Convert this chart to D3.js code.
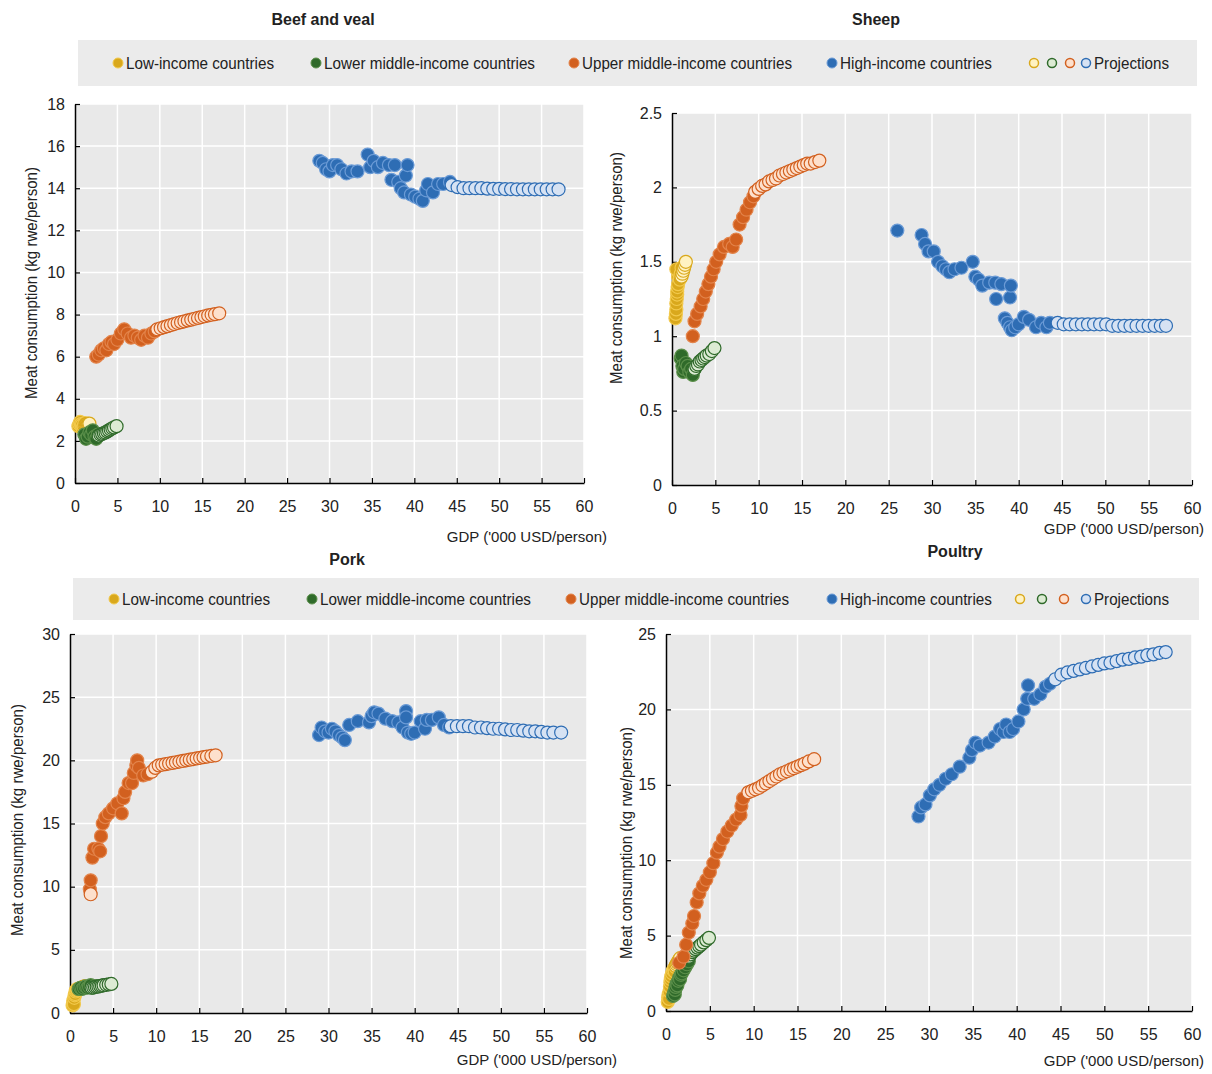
<!DOCTYPE html>
<html><head><meta charset="utf-8">
<script src="https://cdn.jsdelivr.net/npm/d3@7"></script>
<style>
body{margin:0;background:#fff}
text{font-family:"Liberation Sans Narrow","Arial Narrow","Liberation Sans",sans-serif;fill:#222}
</style></head><body>
<svg id="c" width="1212" height="1074"></svg>
<script>
// income groups
var groups = ["Low-income countries", "Lower middle-income countries", "Upper middle-income countries", "High-income countries"];
var histFill = ["#d9a81c", "#2f6a2a", "#d2601f", "#2e6db4"];
var histRing = ["#f2c94c", "#5b8f4a", "#e3844b", "#6b9bd6"];
var projFill = ["#fff2c2", "#dcebd3", "#fde0cc", "#d6e2f3"];

// Beef and veal: [gdp, kg]
var beefHist = [
  [[0.4,2.7],[0.5,2.8],[0.6,2.9],[0.7,2.8],[0.8,2.75],[0.9,2.6],[1.0,2.7],[1.1,2.8],[1.2,2.85]],
  [[1.1,2.3],[1.3,2.1],[1.5,2.2],[1.7,2.4],[1.9,2.3],[2.1,2.5],[2.3,2.2],[2.5,2.1],[2.7,2.3]],
  [[2.5,6.0],[2.8,6.1],[3.1,6.3],[3.4,6.4],[3.7,6.3],[4.0,6.6],[4.3,6.7],[4.6,6.6],[5.0,6.8],[5.4,7.1],[5.8,7.3],[6.2,7.1],[6.6,6.9],[7.0,7.0],[7.4,6.9],[7.8,6.8],[8.2,7.0],[8.6,6.9],[9.0,7.1],[9.4,7.2]],
  [[28.8,15.3],[29.2,15.2],[29.6,14.9],[30,14.8],[30.4,15.1],[30.9,15.1],[31.4,14.9],[32,14.7],[32.6,14.8],[33.3,14.8],[34.5,15.6],[34.8,15.0],[35.2,15.3],[35.7,15.0],[36.3,15.2],[37,15.1],[37.3,14.4],[37.7,15.1],[38.1,14.3],[38.4,14.0],[38.8,13.8],[39,14.6],[39.2,15.1],[39.6,13.7],[40.1,13.6],[40.6,13.5],[41,13.4],[41.4,13.9],[41.6,14.2],[42.2,13.8],[42.8,14.2],[43.4,14.2],[44.2,14.3]]
];
var beefProj = [
  [[1.2,2.75],[1.3,2.76],[1.4,2.78],[1.5,2.8],[1.6,2.81],[1.7,2.82]],
  [[2.8,2.25],[3.0,2.3],[3.2,2.33],[3.4,2.37],[3.6,2.4],[3.8,2.45],[4.0,2.5],[4.2,2.55],[4.4,2.6],[4.6,2.64],[4.9,2.7]],
  [[9.7,7.3],[10.1,7.35],[10.5,7.4],[10.9,7.45],[11.3,7.5],[11.7,7.55],[12.1,7.6],[12.5,7.64],[12.9,7.68],[13.3,7.72],[13.7,7.76],[14.1,7.8],[14.5,7.84],[14.9,7.88],[15.3,7.92],[15.7,7.96],[16.1,7.99],[16.5,8.02],[17.0,8.06]],
  [[44.4,14.15],[45.1,14.05],[45.8,14.0],[46.5,14.0],[47.2,14.0],[47.9,14.0],[48.6,13.98],[49.3,13.97],[50,13.97],[50.7,13.96],[51.4,13.96],[52.1,13.95],[52.8,13.95],[53.5,13.95],[54.2,13.95],[54.9,13.95],[55.6,13.95],[56.3,13.95],[57,13.95]]
];

// Sheep
var sheepHist = [
  [[0.4,1.12],[0.45,1.15],[0.5,1.18],[0.5,1.22],[0.55,1.25],[0.6,1.28],[0.6,1.3],[0.65,1.33],[0.7,1.35],[0.7,1.4],[0.75,1.43],[0.8,1.45],[0.5,1.45],[0.9,1.38],[1.0,1.42],[1.1,1.46]],
  [[1.0,0.85],[1.1,0.87],[1.2,0.8],[1.3,0.76],[1.4,0.78],[1.6,0.82],[1.8,0.8],[2.0,0.76],[2.2,0.78],[2.4,0.74],[2.6,0.78]],
  [[2.4,1.0],[2.6,1.1],[2.9,1.15],[3.3,1.2],[3.6,1.25],[3.9,1.3],[4.2,1.35],[4.5,1.4],[4.8,1.45],[5.1,1.5],[5.5,1.55],[6,1.6],[6.6,1.62],[7.0,1.6],[7.4,1.65],[7.8,1.75],[8.2,1.8],[8.6,1.85],[9,1.9],[9.4,1.94]],
  [[26,1.71],[28.8,1.68],[29.2,1.62],[29.6,1.57],[30.2,1.57],[30.7,1.5],[31.2,1.47],[31.6,1.45],[32,1.43],[32.6,1.45],[33.4,1.46],[34.7,1.5],[35,1.4],[35.4,1.38],[35.8,1.34],[36.6,1.36],[37.3,1.36],[37.4,1.25],[38,1.35],[38.4,1.12],[38.7,1.09],[39,1.06],[39,1.26],[39.1,1.34],[39.2,1.04],[39.6,1.06],[40,1.08],[40.6,1.13],[41.2,1.11],[42,1.06],[42.6,1.09],[43.2,1.06],[43.6,1.09]]
];
var sheepProj = [
  [[1.1,1.4],[1.2,1.42],[1.3,1.44],[1.4,1.46],[1.5,1.48],[1.6,1.5]],
  [[2.6,0.78],[2.8,0.8],[3.0,0.81],[3.2,0.83],[3.4,0.84],[3.6,0.85],[3.8,0.86],[4.0,0.87],[4.3,0.88],[4.6,0.9],[4.9,0.92]],
  [[9.6,1.97],[10.0,1.99],[10.4,2.01],[10.8,2.02],[11.2,2.04],[11.6,2.05],[12.0,2.06],[12.4,2.08],[12.8,2.09],[13.2,2.1],[13.6,2.11],[14.0,2.12],[14.4,2.13],[14.8,2.14],[15.2,2.15],[15.6,2.16],[16.0,2.16],[16.5,2.17],[17.0,2.18]],
  [[44.5,1.09],[45.2,1.08],[45.9,1.08],[46.6,1.08],[47.3,1.08],[48,1.08],[48.7,1.08],[49.4,1.08],[50.1,1.08],[50.8,1.07],[51.5,1.07],[52.2,1.07],[52.9,1.07],[53.6,1.07],[54.3,1.07],[55,1.07],[55.7,1.07],[56.4,1.07],[57,1.07]]
];

// Pork
var porkHist = [
  [[0.3,0.6],[0.35,0.8],[0.4,1.0],[0.45,0.7],[0.5,1.2],[0.55,1.4],[0.6,1.5],[0.65,1.7],[0.7,1.8],[0.8,1.9],[0.9,1.8],[1.0,1.9]],
  [[1.0,1.9],[1.2,2.0],[1.4,1.9],[1.6,2.0],[1.8,2.1],[2.0,2.0],[2.2,2.1],[2.4,2.2],[2.6,2.0],[2.8,2.1],[3.0,2.1]],
  [[2.3,9.8],[2.4,10.5],[2.6,12.3],[2.8,13.0],[3.3,13.0],[3.5,12.8],[3.6,14.0],[3.8,15.0],[4.1,15.5],[4.5,15.8],[5,16.2],[5.5,16.6],[6,15.8],[6.2,17.0],[6.4,17.5],[6.8,18.2],[7.2,18.2],[7.4,19.0],[7.7,19.6],[7.8,20.0],[8,19.4],[8.5,18.8],[9.0,18.9]],
  [[28.9,22.0],[29.2,22.6],[29.6,22.3],[30,22.2],[30.4,22.5],[30.8,22.3],[31.2,22.0],[31.6,21.8],[31.9,21.6],[32.4,22.8],[33.4,23.1],[34.7,23.0],[35.0,23.5],[35.3,23.8],[35.8,23.7],[36.6,23.3],[37.4,23.1],[38.1,23.0],[38.6,22.6],[39.0,23.9],[39.0,23.4],[39.2,22.2],[39.6,22.1],[40.0,22.2],[40.7,23.1],[41.2,22.5],[41.4,23.2],[42,23.2],[42.8,23.4],[43.4,22.8],[44,22.6]]
];
var porkProj = [
  [[1.0,1.9],[1.15,1.95],[1.3,2.0],[1.45,2.05],[1.6,2.08],[1.7,2.1]],
  [[2.5,2.0],[2.7,2.02],[2.9,2.05],[3.1,2.08],[3.3,2.1],[3.5,2.13],[3.7,2.16],[3.9,2.2],[4.2,2.23],[4.5,2.26],[4.8,2.3]],
  [[2.4,9.4],[9.5,19.1],[9.9,19.4],[10.3,19.6],[10.7,19.65],[11.1,19.7],[11.5,19.75],[11.9,19.8],[12.3,19.85],[12.7,19.9],[13.1,19.95],[13.5,20.0],[13.9,20.05],[14.3,20.1],[14.7,20.15],[15.1,20.2],[15.5,20.25],[15.9,20.3],[16.4,20.35],[16.9,20.4]],
  [[44.2,22.7],[44.9,22.7],[45.6,22.7],[46.3,22.7],[47,22.6],[47.7,22.6],[48.4,22.55],[49.1,22.5],[49.8,22.5],[50.5,22.45],[51.2,22.4],[51.9,22.4],[52.6,22.35],[53.3,22.3],[54,22.3],[54.7,22.25],[55.4,22.2],[56.1,22.2],[57,22.2]]
];

// Poultry
var poultryHist = [
  [[0.2,0.6],[0.25,0.9],[0.3,1.1],[0.35,0.8],[0.4,1.3],[0.45,1.6],[0.5,1.9],[0.55,2.1],[0.6,2.3],[0.7,2.5],[0.8,2.7],[0.9,2.8],[1.0,2.6],[1.1,2.9],[1.2,3.0],[1.3,3.1]],
  [[0.8,1.0],[0.9,1.2],[1.0,1.1],[1.05,1.4],[1.1,1.6],[1.2,1.8],[1.3,1.7],[1.4,2.0],[1.5,2.2],[1.6,2.1],[1.7,2.4],[1.8,2.5],[2.0,2.7],[2.2,2.9],[2.4,3.1],[2.6,3.3]],
  [[1.5,3.2],[2.0,3.6],[2.3,4.4],[2.6,5.2],[3.0,5.8],[3.2,6.3],[3.5,7.2],[3.8,7.8],[4.2,8.3],[4.6,8.7],[5.0,9.2],[5.4,9.8],[5.8,10.5],[6.1,10.9],[6.5,11.4],[7,11.9],[7.5,12.3],[8,12.7],[8.5,13.0],[8.6,13.6],[8.8,14.1]],
  [[28.8,12.9],[29.1,13.5],[29.6,13.7],[30.1,14.3],[30.6,14.7],[31.2,15.0],[31.9,15.4],[32.6,15.7],[33.5,16.2],[34.6,16.8],[34.9,17.3],[35.3,17.8],[35.8,17.6],[36.8,17.8],[37.5,18.2],[38.1,18.7],[38.5,18.5],[38.8,19.0],[39.2,18.5],[39.6,18.7],[40.2,19.2],[40.8,20.0],[41.2,20.7],[41.3,21.6],[42,20.7],[42.7,21.0],[43.3,21.5],[43.8,21.7]]
];
var poultryProj = [
  [[1.1,3.0],[1.2,3.1],[1.3,3.2],[1.4,3.3],[1.5,3.4],[1.6,3.5]],
  [[2.6,3.6],[2.8,3.75],[3.0,3.9],[3.2,4.0],[3.4,4.1],[3.6,4.2],[3.8,4.3],[4.0,4.4],[4.3,4.55],[4.6,4.7],[4.9,4.85]],
  [[9.4,14.5],[9.8,14.6],[10.2,14.7],[10.6,14.8],[11.0,14.95],[11.4,15.1],[11.8,15.25],[12.2,15.4],[12.6,15.55],[13.0,15.7],[13.4,15.8],[13.8,15.9],[14.2,16.0],[14.6,16.1],[15.0,16.2],[15.4,16.3],[15.8,16.4],[16.3,16.55],[16.9,16.7]],
  [[44.4,22.0],[45.1,22.3],[45.8,22.45],[46.5,22.55],[47.2,22.65],[47.9,22.75],[48.6,22.85],[49.3,22.95],[50,23.05],[50.7,23.1],[51.4,23.2],[52.1,23.3],[52.8,23.35],[53.5,23.45],[54.2,23.5],[54.9,23.6],[55.6,23.65],[56.3,23.75],[57,23.8]]
];

var xTicks = [0,5,10,15,20,25,30,35,40,45,50,55,60];

var svg = d3.select("#c");

function panel(o) {
  var x = d3.scaleLinear().domain([0,60]).range([o.l, o.r]);
  var y = d3.scaleLinear().domain([0,o.ymax]).range([o.b, o.t]);
  var g = svg.append("g");
  g.append("rect").attr("x",o.l).attr("y",o.t).attr("width",o.r-o.l).attr("height",o.b-o.t).attr("fill","#e9e9e9");
  g.selectAll(".gx").data(xTicks.slice(1)).enter().append("line")
    .attr("x1",d=>x(d)).attr("x2",d=>x(d)).attr("y1",o.t).attr("y2",o.b).attr("stroke","#fff").attr("stroke-width",1.5);
  g.selectAll(".gy").data(o.yTicks.slice(1)).enter().append("line")
    .attr("x1",o.l).attr("x2",o.r).attr("y1",d=>y(d)).attr("y2",d=>y(d)).attr("stroke","#fff").attr("stroke-width",1.5);

  var xa = g.append("g").attr("transform","translate(0,"+o.b+")")
    .call(d3.axisBottom(x).tickValues(xTicks).tickSize(5).tickSizeOuter(0));
  var ya = g.append("g").attr("transform","translate("+o.l+",0)")
    .call(d3.axisLeft(y).tickValues(o.yTicks).tickFormat(d3.format("~g")).tickSize(5).tickSizeOuter(0));
  [xa, ya].forEach(function(a){
    a.select(".domain").attr("stroke","#000").attr("stroke-width",1.5);
    a.selectAll(".tick line").attr("stroke","#000").attr("stroke-width",1.2);
    a.selectAll("text").attr("font-size",16).attr("fill","#222")
      .style("font-family","'Liberation Sans Narrow','Arial Narrow','Liberation Sans',sans-serif");
  });
  xa.selectAll(".tick line").attr("y2",-5).attr("y1",0);
  xa.selectAll("text").attr("dy","1.3em");
  ya.selectAll(".tick line").attr("x2",5);
  ya.selectAll("text").attr("x",-10);

  for (var i = 0; i < 4; i++) {
    g.selectAll(null).data(o.hist[i]).enter().append("circle")
      .attr("cx",d=>x(d[0])).attr("cy",d=>y(d[1])).attr("r",6.5)
      .attr("fill",histFill[i]).attr("stroke",histRing[i]).attr("stroke-width",1.2);
    g.selectAll(null).data(o.proj[i]).enter().append("circle")
      .attr("cx",d=>x(d[0])).attr("cy",d=>y(d[1])).attr("r",6.5)
      .attr("fill",projFill[i]).attr("stroke",histFill[i]).attr("stroke-width",1.2);
  }

  svg.append("text").attr("x",o.tx).attr("y",o.ty).attr("text-anchor","middle")
    .attr("font-size",16).attr("font-weight","bold").attr("fill","#333").text(o.title);
  svg.append("text").attr("transform","translate("+o.yx+","+o.yy+") rotate(-90)")
    .attr("text-anchor","middle").attr("font-size",16).attr("textLength",232).attr("lengthAdjust","spacingAndGlyphs")
    .style("font-family","'Liberation Sans','Arial',sans-serif").text("Meat consumption  (kg rwe/person)");
  svg.append("text").attr("x",o.gx).attr("y",o.gy).attr("text-anchor","end").attr("font-size",15)
    .text("GDP ('000 USD/person)");
}

function legend(o) {
  svg.append("rect").attr("x",o.l).attr("y",o.t).attr("width",o.r-o.l).attr("height",o.h).attr("fill","#ebebeb");
  var cy = o.t + o.h/2;
  var lens = [148, 211, 210, 152];
  groups.forEach(function(name,i){
    svg.append("circle").attr("cx",o.mx[i]).attr("cy",cy).attr("r",5)
      .attr("fill",histFill[i]).attr("stroke",histRing[i]);
    svg.append("text").attr("x",o.mx[i]+8).attr("y",cy+6).attr("font-size",17)
      .attr("textLength",lens[i]).attr("lengthAdjust","spacingAndGlyphs").text(name);
  });
  o.px.forEach(function(px,i){
    svg.append("circle").attr("cx",px).attr("cy",cy).attr("r",4.5)
      .attr("fill",projFill[i]).attr("stroke",histFill[i]).attr("stroke-width",1.5);
  });
  svg.append("text").attr("x",o.px[3]+8).attr("y",cy+6).attr("font-size",17)
    .attr("textLength",75).attr("lengthAdjust","spacingAndGlyphs").text("Projections");
}

legend({l:78,r:1197,t:40,h:46,mx:[118,316,574,832],px:[1034,1052,1070,1086]});
legend({l:73,r:1199,t:578,h:42,mx:[114,312,571,832],px:[1020,1042,1064,1086]});

panel({title:"Beef and veal",tx:323,ty:25,l:75,r:584,t:104,b:483,ymax:18,yTicks:[0,2,4,6,8,10,12,14,16,18],
  hist:beefHist,proj:beefProj,yx:37,yy:283,gx:607,gy:542});
panel({title:"Sheep",tx:876,ty:25,l:672,r:1192,t:113,b:485,ymax:2.5,yTicks:[0,0.5,1,1.5,2,2.5],
  hist:sheepHist,proj:sheepProj,yx:622,yy:268,gx:1204,gy:534});
panel({title:"Pork",tx:347,ty:565,l:70,r:587,t:634,b:1013,ymax:30,yTicks:[0,5,10,15,20,25,30],
  hist:porkHist,proj:porkProj,yx:23,yy:820,gx:617,gy:1065});
panel({title:"Poultry",tx:955,ty:557,l:666,r:1192,t:634,b:1011,ymax:25,yTicks:[0,5,10,15,20,25],
  hist:poultryHist,proj:poultryProj,yx:632,yy:843,gx:1204,gy:1066});
</script></body></html>
